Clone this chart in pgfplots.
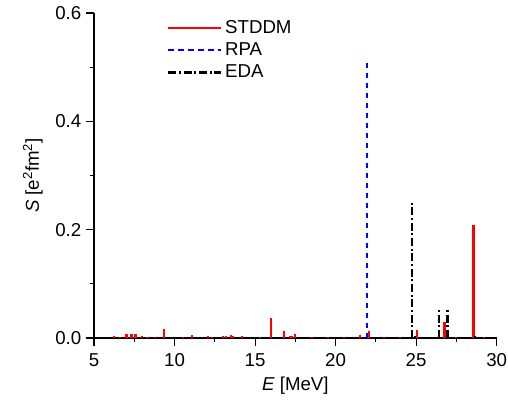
\documentclass[border=0pt]{standalone}
\usepackage{fontspec}
\setmainfont{Liberation Sans}
\usepackage{pgfplots}
\pgfplotsset{compat=1.18}
\pgfplotsset{lineleg/.style={legend image code/.code={\draw[##1] (0cm,0cm) -- (1.4cm,0cm);}}}
\begin{document}
\begin{tikzpicture}
\begin{axis}[
  scale only axis,
  width=302pt, height=243.75pt,
  xmin=5, xmax=30, ymin=0, ymax=0.6,
  axis x line*=bottom, axis y line*=left,
  axis line style={-, line width=0.8pt},
  xtick={5,10,...,30},
  ytick={0,0.2,0.4,0.6},
  minor x tick num=1, minor y tick num=1,
  tick align=outside,
  major tick length=6pt, minor tick length=3pt,
  tick style={line width=0.8pt, black},
  yticklabel style={/pgf/number format/.cd, fixed, fixed zerofill, precision=1},
  /pgf/number format/assume math mode=true,
  ticklabel style={font=\fontsize{14}{17}\selectfont},
  xticklabel style={yshift=-2pt},
  label style={font=\fontsize{14}{17}\selectfont},
  xlabel={\textit{E} [MeV]},
  ylabel={\textit{S} [e\textsuperscript{2}fm\textsuperscript{2}]},
  xlabel style={yshift=-1pt},
  ylabel style={yshift=2.5pt},
  legend style={at={(0.178,0.99)}, anchor=north west, draw=none, fill=none,
    font=\fontsize{14}{17}\selectfont, row sep=1.5pt, inner sep=1pt},
  legend cell align=left,
  clip=false,
]
\addplot+[ycomb, no marks, red, line width=1.6pt, lineleg]
coordinates {
(6.26,0.003) (6.6,0.001) (7.02,0.0075) (7.33,0.0075) (7.58,0.0075)
(7.99,0.004) (8.32,0.002) (8.8,0.001) (9.37,0.016) (10.5,0.001)
(11.1,0.005) (12.07,0.003) (12.3,0.002) (13.0,0.003) (13.17,0.003)
(13.5,0.006) (13.6,0.003) (14.2,0.004) (15.3,0.001) (16.0,0.037)
(16.8,0.012) (17.17,0.004) (17.3,0.003) (17.48,0.008) (18.5,0.001)
(19.5,0.001) (20.5,0.001) (21.5,0.005) (22.06,0.012) (23.0,0.001)
(24.0,0.001) (25.05,0.015) (26.76,0.030) (27.5,0.001) (28.56,0.208)
(29.2,0.001)
};
\addlegendentry{STDDM}
\addplot+[ycomb, no marks, blue, line width=1.6pt, dash pattern=on 4pt off 3.5pt, lineleg]
coordinates {(21.96,0.515)};
\addlegendentry{RPA}
\addplot+[ycomb, no marks, black, line width=1.6pt, dash pattern=on 6pt off 2pt on 1.5pt off 2pt, lineleg]
coordinates {(24.72,0.251) (24.93,0.004) (26.43,0.052) (26.95,0.052) (28.68,0.003)};
\addlegendentry{EDA}
\end{axis}
\pgfresetboundingbox
\path[use as bounding box] (-70.5pt,-48pt) rectangle (310.5pt,253.5pt);
\end{tikzpicture}
\end{document}
